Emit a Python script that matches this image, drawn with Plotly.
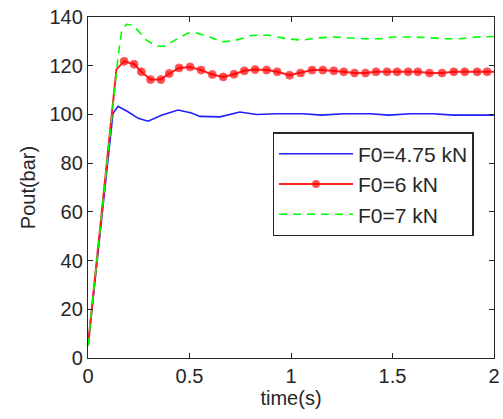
import plotly.graph_objects as go

# ---- data ----
blue_t = [0, 0.123, 0.148, 0.197, 0.247, 0.296, 0.362, 0.444, 0.51, 0.551, 0.65, 0.748,
          0.831, 0.93, 1.06, 1.15, 1.26, 1.39, 1.48, 1.59, 1.70, 1.80, 2.0]
blue_y = [5, 100.4, 103.3, 101.1, 98.4, 97.2, 99.7, 101.8, 100.6, 99.2, 99.0, 101.0,
          100.0, 100.3, 100.3, 99.7, 100.3, 100.3, 99.7, 100.3, 100.3, 99.7, 99.7]

red_t = [0, 0.14, 0.178, 0.227, 0.263, 0.308, 0.359, 0.400, 0.449, 0.503, 0.557, 0.612,
         0.666, 0.719, 0.770, 0.823, 0.880, 0.932, 0.993, 1.047, 1.104, 1.157, 1.211,
         1.260, 1.313, 1.367, 1.419, 1.473, 1.523, 1.577, 1.625, 1.682, 1.744, 1.802,
         1.856, 1.917, 1.966, 2.0]
red_y = [5, 118.5, 121.8, 120.6, 117.5, 114.3, 114.3, 116.8, 119.1, 119.5, 118.2, 116.4,
         115.4, 116.5, 117.9, 118.4, 118.2, 117.5, 116.1, 117.0, 118.2, 118.2, 117.9,
         117.5, 117.0, 117.0, 117.5, 117.5, 117.5, 117.5, 117.5, 117.0, 117.0, 117.5,
         117.5, 117.5, 117.5, 117.5]
red_marker_size = [0, 0] + [8] * (len(red_t) - 3) + [0]

green_t = [0, 0.115, 0.148, 0.165, 0.189, 0.222, 0.288, 0.337, 0.378, 0.428, 0.493,
           0.526, 0.592, 0.658, 0.716, 0.814, 0.888, 0.979, 1.053, 1.127, 1.209, 1.357,
           1.44, 1.505, 1.61, 1.75, 1.83, 1.916, 2.0]
green_y = [5, 97.7, 123.6, 133.8, 137.0, 136.6, 130.5, 128.0, 128.0, 130.5, 133.4,
           133.6, 132.1, 129.8, 130.2, 132.5, 132.5, 131.1, 130.5, 131.4, 131.8, 131.1,
           131.1, 131.8, 131.8, 131.1, 131.1, 131.8, 132.0]

x_ticks = [0, 0.5, 1, 1.5, 2]
x_tick_labels = ["0", "0.5", "1", "1.5", "2"]
y_ticks = [0, 20, 40, 60, 80, 100, 120, 140]

names = ["F0=4.75 kN", "F0=6 kN", "F0=7 kN"]

FONT = "Liberation Sans, Arial, sans-serif"
TXT = "#262626"

fig = go.Figure()
fig.add_trace(go.Scatter(x=blue_t, y=blue_y, mode="lines", name=names[0],
                         line=dict(color="#1f1fff", width=1.6)))
fig.add_trace(go.Scatter(x=red_t, y=red_y, mode="lines+markers", name=names[1],
                         line=dict(color="#ff2020", width=2),
                         marker=dict(color="#ff0000", size=red_marker_size)))
fig.add_trace(go.Scatter(x=green_t, y=green_y, mode="lines", name=names[2],
                         line=dict(color="#00ff00", width=1.6, dash="8px,6px")))

axis_common = dict(showgrid=False, zeroline=False, showline=True, linecolor="#262626",
                   linewidth=1.3, mirror="ticks", ticks="inside", ticklen=5,
                   tickcolor="#262626", tickwidth=1.3, automargin=False,
                   tickfont=dict(family=FONT, size=20, color=TXT))

fig.update_layout(
    width=503, height=419,
    margin=dict(l=88, r=9, t=17, b=61),
    paper_bgcolor="white", plot_bgcolor="white",
    font=dict(family=FONT, size=20, color=TXT),
    xaxis=dict(range=[0, 2], tickvals=x_ticks, ticktext=x_tick_labels,
               title=dict(text="time(s)", font=dict(family=FONT, size=20, color=TXT), standoff=4),
               **axis_common),
    yaxis=dict(range=[0, 140], tickvals=y_ticks,
               title=dict(text="Pout(bar)", font=dict(family=FONT, size=20, color=TXT), standoff=8),
               **axis_common),
    legend=dict(x=0.455, y=0.662, xanchor="left", yanchor="top",
                bgcolor="white", bordercolor="#262626", borderwidth=1.3,
                font=dict(family=FONT, size=21, color=TXT), itemwidth=74,
                entrywidth=195, entrywidthmode="pixels",
                tracegroupgap=0),
    showlegend=True,
)

fig.write_html("out.html", config={"displayModeBar": False},
               post_script="document.body.style.margin='0';document.body.style.padding='0';")
